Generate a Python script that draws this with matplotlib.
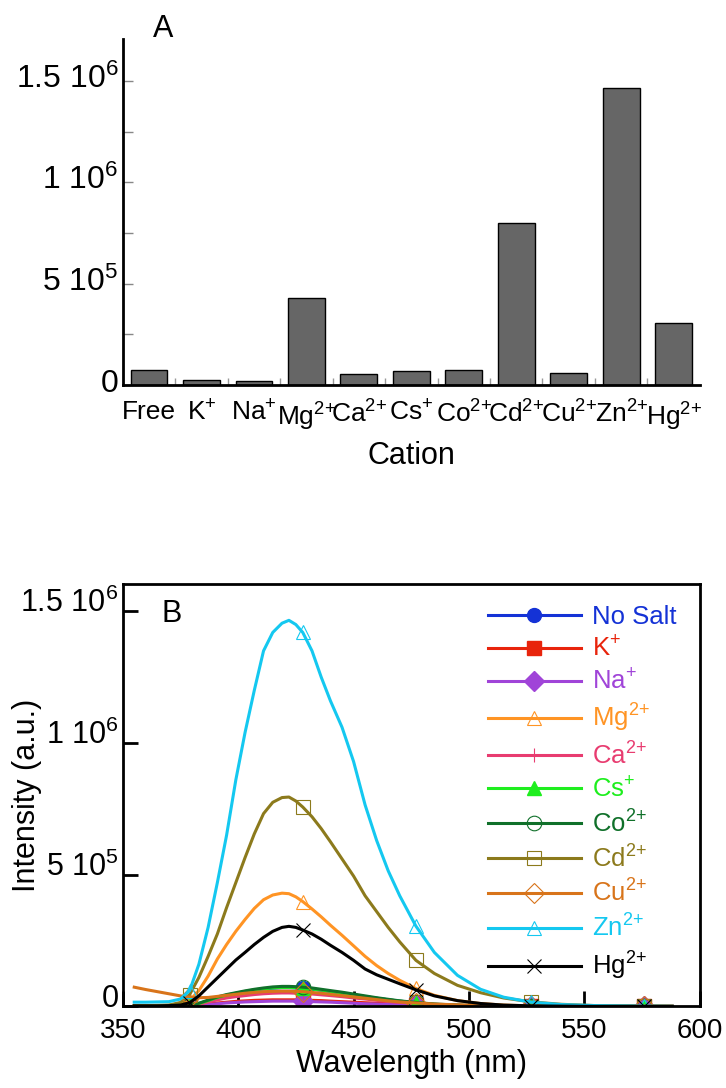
import numpy as np
import matplotlib
matplotlib.use('Agg')
import matplotlib.pyplot as plt
from matplotlib.transforms import ScaledTranslation

plt.rcParams['font.family'] = ['Liberation Sans', 'DejaVu Sans']
plt.rcParams['mathtext.default'] = 'regular'

# panel A: peak intensity per cation (units of 1e3)
cations = ['Free', 'K$^{+}$', 'Na$^{+}$', 'Mg$^{2{+}}$', 'Ca$^{2{+}}$', 'Cs$^{+}$',
           'Co$^{2{+}}$', 'Cd$^{2{+}}$', 'Cu$^{2{+}}$', 'Zn$^{2{+}}$', 'Hg$^{2{+}}$']
peak = [74, 25, 21, 428, 54, 72, 76, 798, 59, 1465, 307]

# panel B: emission spectra (units of 1e3)
wl = [355, 360, 365, 370, 375, 379, 383, 387, 391, 395, 399, 403, 407, 411, 415,
      419, 422, 425, 428, 432, 436, 440, 445, 450, 455, 460, 465, 470, 477, 485,
      495, 505, 515, 527, 540, 555, 576, 588]
no_salt = [0, 0, 0, 1, 2, 4, 10, 21, 33, 42, 49, 56, 62, 66, 69, 71, 71, 70, 68,
           65, 61, 56, 50, 44, 37, 31, 25, 20, 14, 8, 4, 2, 1, 0, 0, 0, 0, 0]
k_ion = [0, 0, 0, 0, 1, 2, 5, 9, 13, 16, 19, 21, 23, 24, 25, 25, 25, 25, 24,
         23, 22, 20, 18, 16, 14, 12, 10, 8, 6, 4, 2, 1, 1, 0, 0, 0, 0, 0]
na_ion = [0, 0, 0, 0, 1, 2, 4, 7, 10, 13, 15, 17, 18, 19, 20, 20, 20, 20, 19,
          18, 17, 16, 14, 12, 10, 9, 7, 6, 4, 3, 2, 1, 0, 0, 0, 0, 0, 0]
mg_ion = [3, 3, 3, 4, 8, 22, 60, 115, 180, 235, 285, 330, 372, 405, 423, 430,
          428, 416, 398, 370, 340, 308, 270, 230, 190, 155, 125, 99, 68, 42, 22,
          11, 5, 2, 1, 0, 0, 0]
ca_ion = [0, 0, 0, 1, 2, 3, 8, 16, 25, 32, 37, 41, 45, 48, 50, 51, 51, 50, 49,
          47, 44, 41, 37, 32, 28, 23, 19, 15, 11, 7, 4, 2, 1, 0, 0, 0, 0, 0]
cs_ion = [0, 0, 0, 1, 2, 5, 11, 22, 34, 43, 50, 57, 63, 67, 70, 72, 72, 71, 69,
          66, 62, 57, 51, 44, 37, 31, 25, 20, 14, 8, 4, 2, 1, 0, 0, 0, 0, 0]
co_ion = [0, 0, 0, 1, 2, 5, 12, 24, 36, 45, 52, 59, 65, 70, 74, 76, 76, 75, 73,
          70, 65, 60, 54, 47, 40, 33, 27, 21, 15, 9, 5, 3, 1, 1, 0, 0, 0, 0]
cd_ion = [3, 3, 4, 5, 15, 45, 110, 190, 275, 375, 470, 565, 655, 732, 775, 793,
          795, 780, 757, 720, 675, 625, 560, 495, 420, 360, 300, 245, 175, 125,
          80, 52, 32, 17, 8, 3, 1, 0]
cu_ion = [73, 64, 56, 48, 40, 35, 33, 34, 38, 42, 46, 50, 53, 56, 57, 58, 58, 57,
          56, 53, 50, 46, 41, 36, 31, 26, 21, 17, 13, 9, 6, 4, 3, 2, 1, 1, 0, 0]
zn_ion = [16, 16, 17, 18, 28, 60, 160, 300, 470, 650, 860, 1040, 1200, 1350,
          1420, 1455, 1466, 1450, 1420, 1350, 1250, 1160, 1060, 930, 765, 630,
          515, 420, 305, 205, 118, 65, 35, 16, 7, 3, 1, 0]
hg_ion = [2, 2, 2, 3, 5, 14, 40, 74, 108, 142, 176, 205, 235, 262, 285, 300,
          304, 300, 290, 275, 255, 232, 205, 175, 142, 120, 103, 86, 63, 40, 22,
          11, 5, 2, 1, 0, 0, 0]

series = [
    ('No Salt', no_salt, '#1432d6', 'o', True),
    ('K$^{+}$', k_ion, '#e8240c', 's', True),
    ('Na$^{+}$', na_ion, '#a044d8', 'D', True),
    ('Mg$^{2{+}}$', mg_ion, '#ff9424', '^', False),
    ('Ca$^{2{+}}$', ca_ion, '#e83c70', '+', False),
    ('Cs$^{+}$', cs_ion, '#1eee1e', '^', True),
    ('Co$^{2{+}}$', co_ion, '#10702a', 'o', False),
    ('Cd$^{2{+}}$', cd_ion, '#8c7a1c', 's', False),
    ('Cu$^{2{+}}$', cu_ion, '#d8741a', 'D', False),
    ('Zn$^{2{+}}$', zn_ion, '#14c8f0', '^', False),
    ('Hg$^{2{+}}$', hg_ion, '#000000', 'x', False),
]
mark_at = [5, 18, 28, 33, 36]

fig = plt.figure(figsize=(7.26, 10.88), dpi=100)


def shift_labels(labels, dy_px):
    # put the digits' baseline a few pixels off the tick
    for lab in labels:
        lab.set_va('baseline')
        lab.set_transform(lab.get_transform() +
                          ScaledTranslation(0, dy_px / 100, fig.dpi_scale_trans))


# ---- panel A ----
axA = fig.add_axes([0.169, 0.646, 0.795, 0.318])
x = np.arange(len(cations))
axA.bar(x, peak, width=0.7, color='#666666', edgecolor='black', linewidth=1)
axA.set_xlim(-0.5, 10.5)
axA.set_ylim(0, 1706)
axA.spines['top'].set_visible(False)
axA.spines['right'].set_visible(False)
axA.spines['left'].set_linewidth(2)
axA.spines['bottom'].set_linewidth(2)
axA.set_xticks(x)
axA.set_xticklabels(cations, fontsize=19)
axA.set_xticks(x[:-1] + 0.5, minor=True)
axA.set_yticks([0, 500, 1000, 1500])
axA.set_yticklabels(['0', '5 10$^{5}$', '1 10$^{6}$', '1.5 10$^{6}$'], fontsize=23)
axA.set_yticks([250, 750, 1250], minor=True)
axA.tick_params(axis='x', which='major', length=0, pad=11)
axA.tick_params(axis='x', which='minor', direction='in', length=5, color='#999999', width=1)
axA.tick_params(axis='y', which='both', direction='in', length=7, color='#888888', width=1, pad=3)
shift_labels(axA.get_yticklabels(), -7)
axA.set_xlabel('Cation', fontsize=22, labelpad=6)
axA.text(0.07, 0.987, 'A', transform=axA.transAxes, fontsize=22, ha='center', va='bottom')

# ---- panel B ----
axB = fig.add_axes([0.169, 0.075, 0.795, 0.388])
for name, vals, col, mk, filled in series:
    if filled:
        axB.plot(wl, vals, color=col, lw=2.2, marker=mk, markevery=mark_at, ms=10,
                 mfc=col, mec=col, label=name)
    else:
        axB.plot(wl, vals, color=col, lw=2.2, marker=mk, markevery=mark_at, ms=10.5,
                 mfc='none', mec=col, mew=0.8, label=name)
axB.set_xlim(350, 600)
axB.set_ylim(0, 1603)
for sp in axB.spines.values():
    sp.set_linewidth(2)
axB.set_xticks([350, 400, 450, 500, 550, 600])
axB.set_yticks([0, 500, 1000, 1500])
axB.set_yticklabels(['0', '5 10$^{5}$', '1 10$^{6}$', '1.5 10$^{6}$'], fontsize=22)
axB.tick_params(axis='x', labelsize=20, direction='in', length=11, width=2, pad=8)
axB.tick_params(axis='y', direction='in', length=11, width=2, pad=3)
shift_labels(axB.get_yticklabels(), -1)
axB.set_xlabel('Wavelength (nm)', fontsize=22, labelpad=4)
axB.set_ylabel('Intensity (a.u.)', fontsize=22)
axB.yaxis.set_label_coords(-0.14, 0.5)
axB.text(0.085, 0.965, 'B', transform=axB.transAxes, fontsize=22, ha='center', va='top')

leg = axB.legend(loc='upper left', bbox_to_anchor=(0.633, 0.952), frameon=False,
                 fontsize=18.5, handlelength=3.6, handletextpad=0.45, labelspacing=0.30,
                 borderpad=0, borderaxespad=0)
for txt, s in zip(leg.get_texts(), series):
    txt.set_color(s[2])

fig.savefig('out.png', dpi=100)
